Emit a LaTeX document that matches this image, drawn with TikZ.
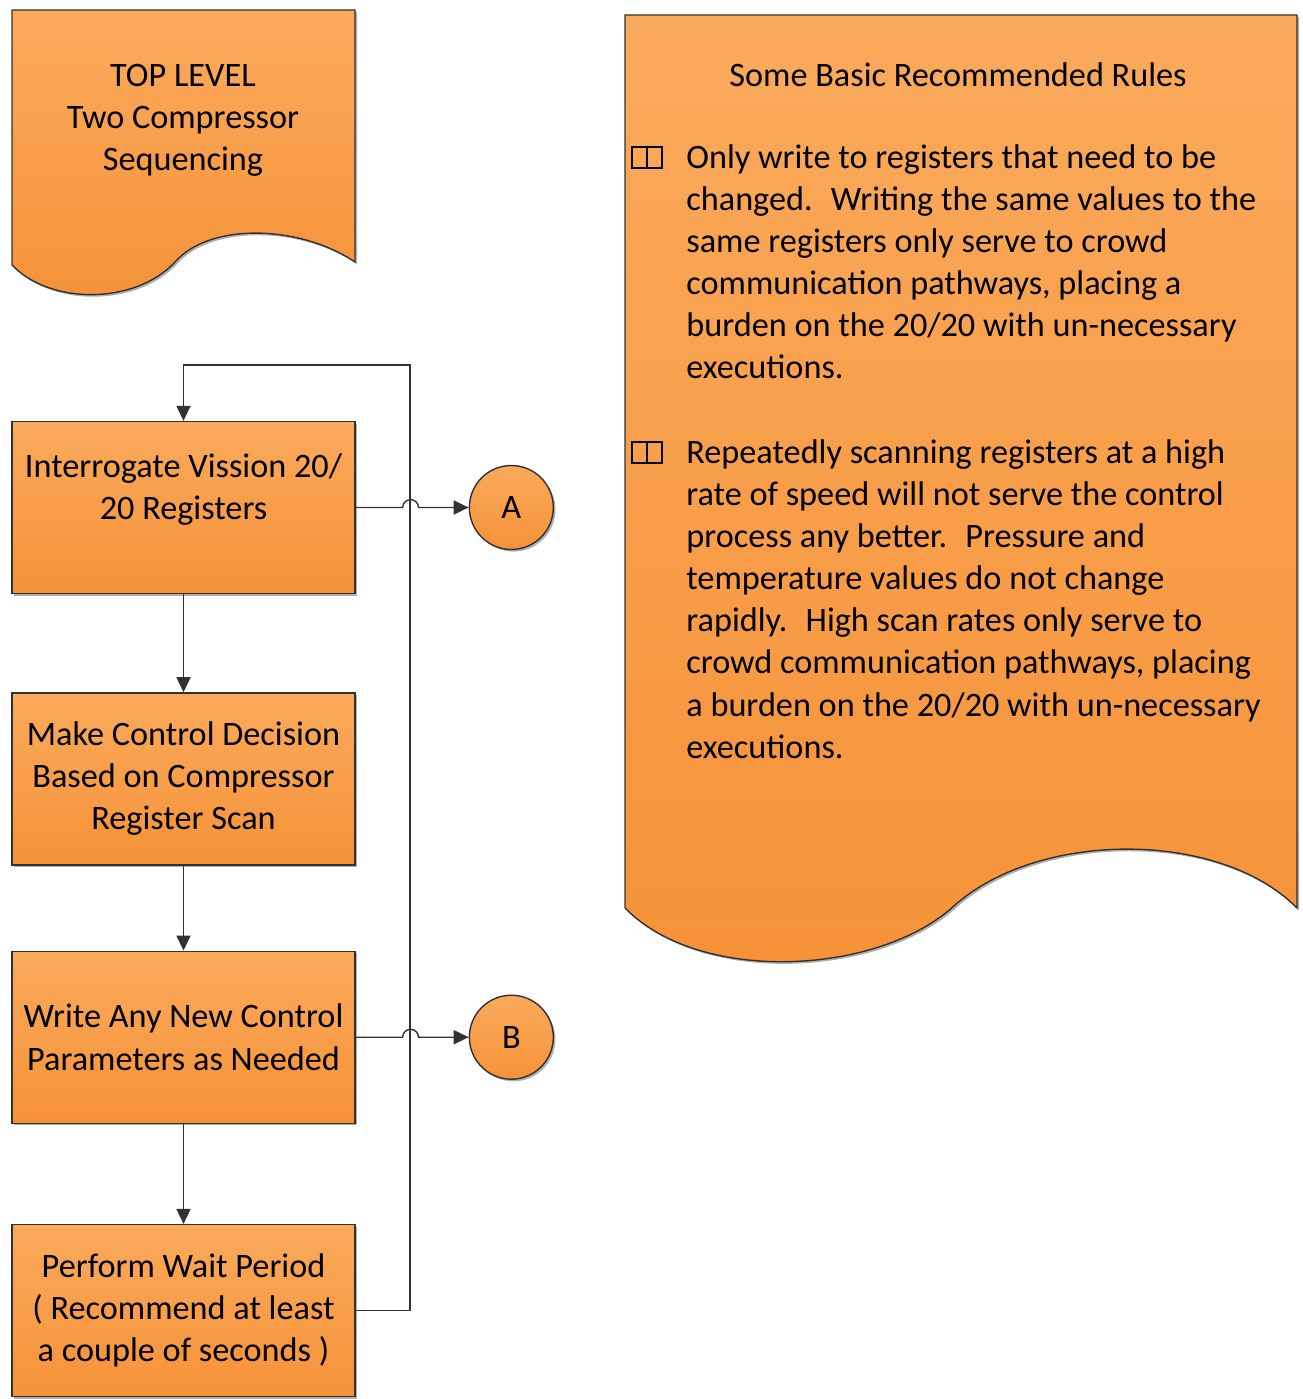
\documentclass[tikz,border=0pt]{standalone}
\usepackage{fontspec}
\setmainfont{Carlito}
\usepackage{tikz}
\usetikzlibrary{arrows.meta, positioning, shadows}

\definecolor{flowtop}{RGB}{250,170,92}
\definecolor{flowbot}{RGB}{246,146,56}
\definecolor{edgegray}{RGB}{50,50,50}

\begin{document}
\begin{tikzpicture}[
    x=0.02cm, y=-0.02cm,
    font=\fontsize{19.5}{24}\selectfont,
    orangefill/.style={top color=flowtop, bottom color=flowbot, draw=edgegray, line width=0.8pt, drop shadow={shadow xshift=1.2pt, shadow yshift=-1.2pt, fill=gray!70, opacity=0.9}},
    box/.style={rectangle, orangefill, minimum width=6.86cm, minimum height=3.44cm, align=center, inner sep=2pt},
    conn/.style={circle, orangefill, minimum size=1.68cm, inner sep=0pt},
    arrow/.style={->, >={Triangle[length=8.5pt,width=8pt]}, line width=0.8pt, draw=edgegray},
    bullet/.style={draw=black, line width=1pt}
]
\useasboundingbox (0,0) rectangle (1302,1399);

% Document shapes
\path[orangefill] (12,10) -- (355,10) -- (355,262) .. controls (300,225) and (210,222) .. (175,262) .. controls (135,305) and (50,305) .. (12,265) -- cycle;
\node[align=center] (toplevel) at (183,120) {TOP LEVEL\\Two Compressor\\Sequencing};

\path[orangefill] (625,15) -- (1297,15) -- (1297,908) .. controls (1220,830) and (1040,830) .. (955,905) .. controls (880,975) and (700,985) .. (625,908) -- cycle;
\node (rulestitle) at (958,75) {Some Basic Recommended Rules};
\draw[bullet] (632,147) rectangle (647,168) (647,147) rectangle (662,168);
\node[anchor=north west, align=left, inner sep=0pt] (ruleone) at (686,144) {Only write to registers that need to be\\changed.~ Writing the same values to the\\same registers only serve to crowd\\communication pathways, placing a\\burden on the 20/20 with un-necessary\\executions.};
\draw[bullet] (632,442) rectangle (647,463) (647,442) rectangle (662,463);
\node[anchor=north west, align=left, inner sep=0pt] (ruletwo) at (686,439) {Repeatedly scanning registers at a high\\rate of speed will not serve the control\\process any better.~ Pressure and\\temperature values do not change\\rapidly.~ High scan rates only serve to\\crowd communication pathways, placing\\a burden on the 20/20 with un-necessary\\executions.};

% Flow
\node[box] (interrogate) at (183.5,507.5) {Interrogate Vission 20/\\20 Registers\\\mbox{}};
\node[box, below=1.96cm of interrogate] (decide) {Make Control Decision\\Based on Compressor\\Register Scan};
\node[box, below=1.7cm of decide] (write) {Write Any New Control\\Parameters as Needed};
\node[box, below=2cm of write] (wait) {Perform Wait Period\\( Recommend at least\\a couple of seconds )};

\node[conn, right=2.26cm of interrogate] (A) {A};
\node[conn, right=2.26cm of write] (B) {B};

\draw[arrow] (interrogate) -- (decide);
\draw[arrow] (decide) -- (write);
\draw[arrow] (write) -- (wait);
% Loop back
\coordinate (loop) at (410,365);
\draw[arrow] (wait.east) -| (loop) -| (interrogate.north);
% Jumps over the loop line
\draw[arrow] (interrogate.east) -- ++(47,0) arc[start angle=180, end angle=0, radius=4.5pt] -- (A.west);
\draw[arrow] (write.east) -- ++(47,0) arc[start angle=180, end angle=0, radius=4.5pt] -- (B.west);
\end{tikzpicture}
\end{document}
